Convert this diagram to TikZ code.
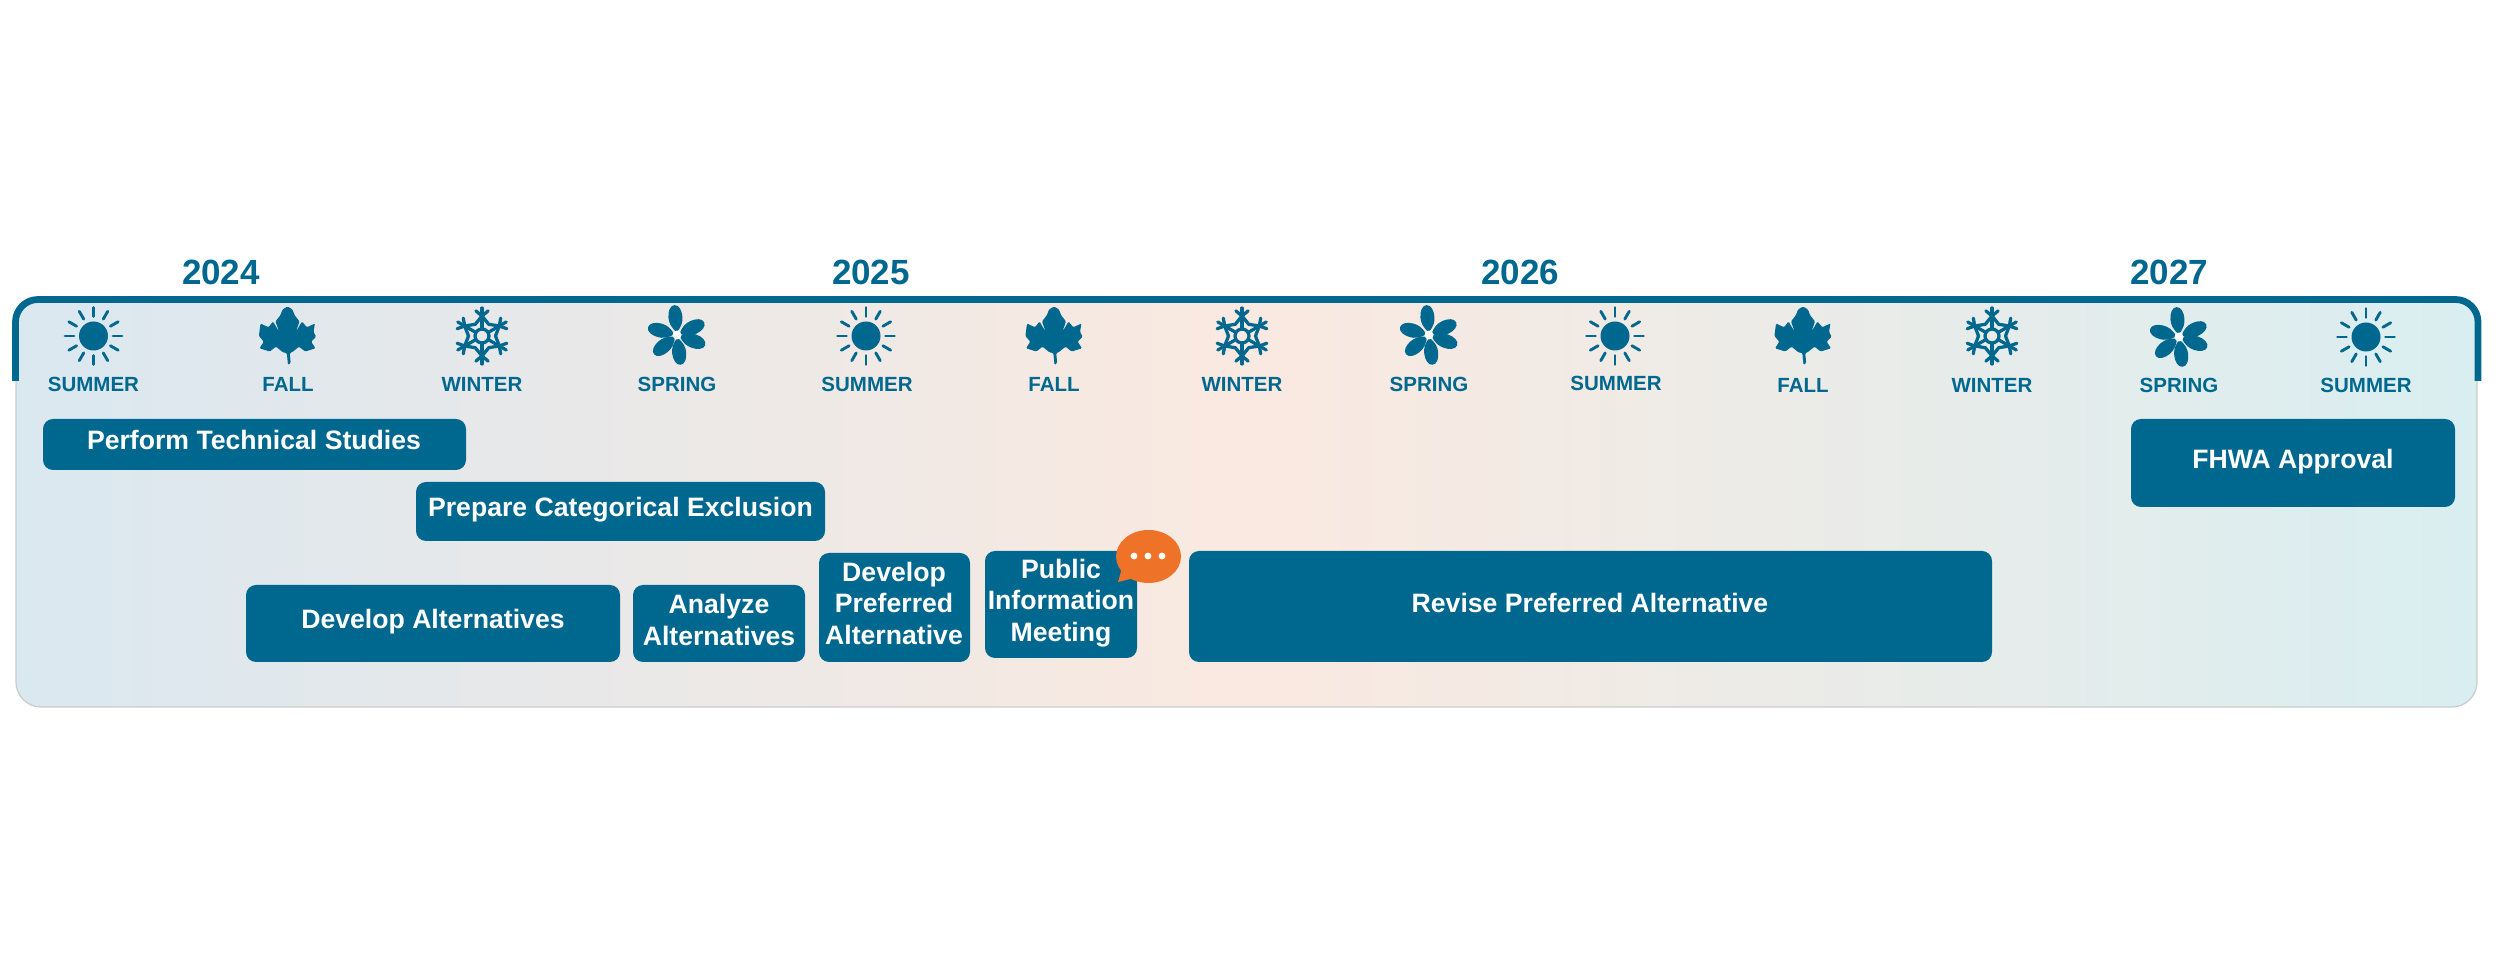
\documentclass[tikz,border=0pt]{standalone}
\usepackage{fontspec}
\setmainfont{Liberation Sans}
\usetikzlibrary{fit,calc}
\definecolor{fhblue}{HTML}{00678F}
\definecolor{fhorange}{HTML}{EE7228}
\definecolor{paneleft}{HTML}{DAE8F0}
\definecolor{panemid}{HTML}{FAE9E0}
\definecolor{paneright}{HTML}{D9EEF1}
\tikzset{
  taskbox/.style={draw=none,fill=fhblue,rounded corners=4pt,inner sep=0pt,rectangle},
  tasktext/.style={text=white,font=\bfseries\fontsize{10.65}{12.6}\selectfont,align=center,inner sep=0pt},
  seasontext/.style={text=fhblue,font=\bfseries\fontsize{8.2}{10}\selectfont,inner sep=0pt},
  yeartext/.style={text=fhblue,font=\bfseries\fontsize{14}{16}\selectfont,inner sep=0pt},
  sun/.pic={
    \fill[fhblue] (0,0) circle (14.5);
    \foreach \a in {0,30,...,330}
      \draw[fhblue,line width=1.15pt,line cap=round] (\a:19.5) -- (\a:28.5);
  },
  leaf/.pic={
    \fill[fhblue,rounded corners=0.45pt]
      (0,-28.5) -- (5,-25.5) -- (7,-20) -- (12,-13.5) -- (8.3,-3) -- (14.5,-13.5) -- (19.3,-7.7)
      -- (27.5,-11.5) -- (26,-3.3) -- (28.6,1.7) -- (23.7,6.7) -- (28,13.3) -- (17.7,16.5)
      -- (11.5,11.7) -- (4.3,17.5) -- (2.2,18) -- (3.2,28) -- (0.5,30) -- (-0.7,18) -- (-4.3,17.5)
      -- (-11.5,11.7) -- (-17.7,16.5) -- (-28,13.3) -- (-23.7,6.7) -- (-28.6,1) -- (-27,-11.5)
      -- (-19,-7.7) -- (-14.5,-13.5) -- (-8.3,-3) -- (-12,-13.5) -- (-7,-20) -- (-5,-25.5) -- cycle;
  },
  flake/.pic={
    \draw[fhblue,line width=1.3pt] (0,0) circle (7);
    \foreach \a in {30,90,...,330}{
      \draw[fhblue,line width=1.3pt,line cap=round] (\a:7) -- (\a:28);
      \draw[fhblue,line width=1.3pt,line cap=round] ($(\a:20)+(\a+50:8)$) -- (\a:20) -- ($(\a:20)+(\a-50:8)$);
      \draw[fhblue,line width=1.3pt,line join=round] (\a:20) -- (\a+30:13.5) -- (\a+60:20);
    }
  },
  flower/.pic={
    \foreach \a in {95,25,-20,-83,-140,165}
      \fill[fhblue,rotate=\a] (3,0) .. controls (8,5.5) and (13,7) .. (18,7) .. controls (24,7) and (30,4.5) .. (30,0)
        .. controls (30,-4.5) and (24,-7) .. (18,-7) .. controls (13,-7) and (8,-5.5) .. (3,0) -- cycle;
    \fill[white] (0,0) circle (4.5);
  }
}
\newcommand{\taskitem}[8]{%
  \coordinate (#1-a) at (#2,#3);
  \coordinate (#1-b) at (#4,#5);
  \node[taskbox,fit=(#1-a)(#1-b)] (#1) {};
  \node[tasktext] (#1-t) at (#6,#7) {#8};
}
\begin{document}
\begin{tikzpicture}[x=0.4pt,y=-0.4pt]
\useasboundingbox (0,0) rectangle (2500,964);
\fill[white] (0,0) rectangle (2500,964);
% panel
\shade[left color=paneleft,right color=paneright,middle color=panemid,rounded corners=10pt]
  (16,300) rectangle (2477,707);
\draw[black!20,line width=0.5pt,rounded corners=10pt] (16,381) -- (16,707) -- (2477,707) -- (2477,381);
\draw[fhblue,line width=2.7pt,rounded corners=9pt] (15.5,381) -- (15.5,299.5) -- (2478,299.5) -- (2478,381);
% years
\node[yeartext] (y24) at (221,272) {2024};
\node[yeartext] (y25) at (871,272) {2025};
\node[yeartext] (y26) at (1520,272) {2026};
\node[yeartext] (y27) at (2169,272) {2027};
% seasons
\node[seasontext] (s1) at (93.5,384) {SUMMER};
\node[seasontext] (s2) at (288,384) {FALL};
\node[seasontext] (s3) at (482,384) {WINTER};
\node[seasontext] (s4) at (677,384) {SPRING};
\node[seasontext] (s5) at (867,384) {SUMMER};
\node[seasontext] (s6) at (1054,384) {FALL};
\node[seasontext] (s7) at (1242,384) {WINTER};
\node[seasontext] (s8) at (1429,384) {SPRING};
\node[seasontext] (s9) at (1616,383) {SUMMER};
\node[seasontext] (s10) at (1803,385) {FALL};
\node[seasontext] (s11) at (1992,385) {WINTER};
\node[seasontext] (s12) at (2179,385) {SPRING};
\node[seasontext] (s13) at (2366,385) {SUMMER};
\pic at (93.5,336) {sun};
\pic at (287.5,335) {leaf};
\pic at (482,336) {flake};
\pic at (677,335) {flower};
\pic at (866,336) {sun};
\pic at (1054,335) {leaf};
\pic at (1242,336) {flake};
\pic at (1429,335) {flower};
\pic at (1615,336) {sun};
\pic at (1803,335) {leaf};
\pic at (1992,336) {flake};
\pic at (2179,337) {flower};
\pic at (2366,337) {sun};
% tasks
\taskitem{perform}{43}{419}{466}{470}{254}{440}{Perform Technical Studies}
\taskitem{prepare}{416}{482}{825}{541}{620.5}{510}{Prepare Categorical Exclusion}
\taskitem{devalt}{246}{585}{620}{662}{433}{622}{Develop Alternatives}
\taskitem{analyze}{633}{585}{805}{662}{719}{620}{Analyze\\Alternatives}
\taskitem{devpref}{819}{553}{970}{662}{894}{603}{Develop\\Preferred\\Alternative}
\taskitem{public}{985}{551}{1137}{658}{1061}{603}{Public\\Information\\Meeting}
\taskitem{revise}{1189}{551}{1992}{662}{1590}{603}{Revise Preferred Alternative}
\taskitem{fhwa}{2131}{419}{2455}{507}{2293}{462}{FHWA Approval}
% bubble
\fill[fhorange] (1148.5,556.5) ellipse (32.5 and 26.5);
\fill[fhorange] (1122,568) -- (1118,582) -- (1134,578) -- cycle;
\foreach \x in {1134,1148,1162} \fill[white] (\x,556) circle (3.4);
\end{tikzpicture}
\end{document}
